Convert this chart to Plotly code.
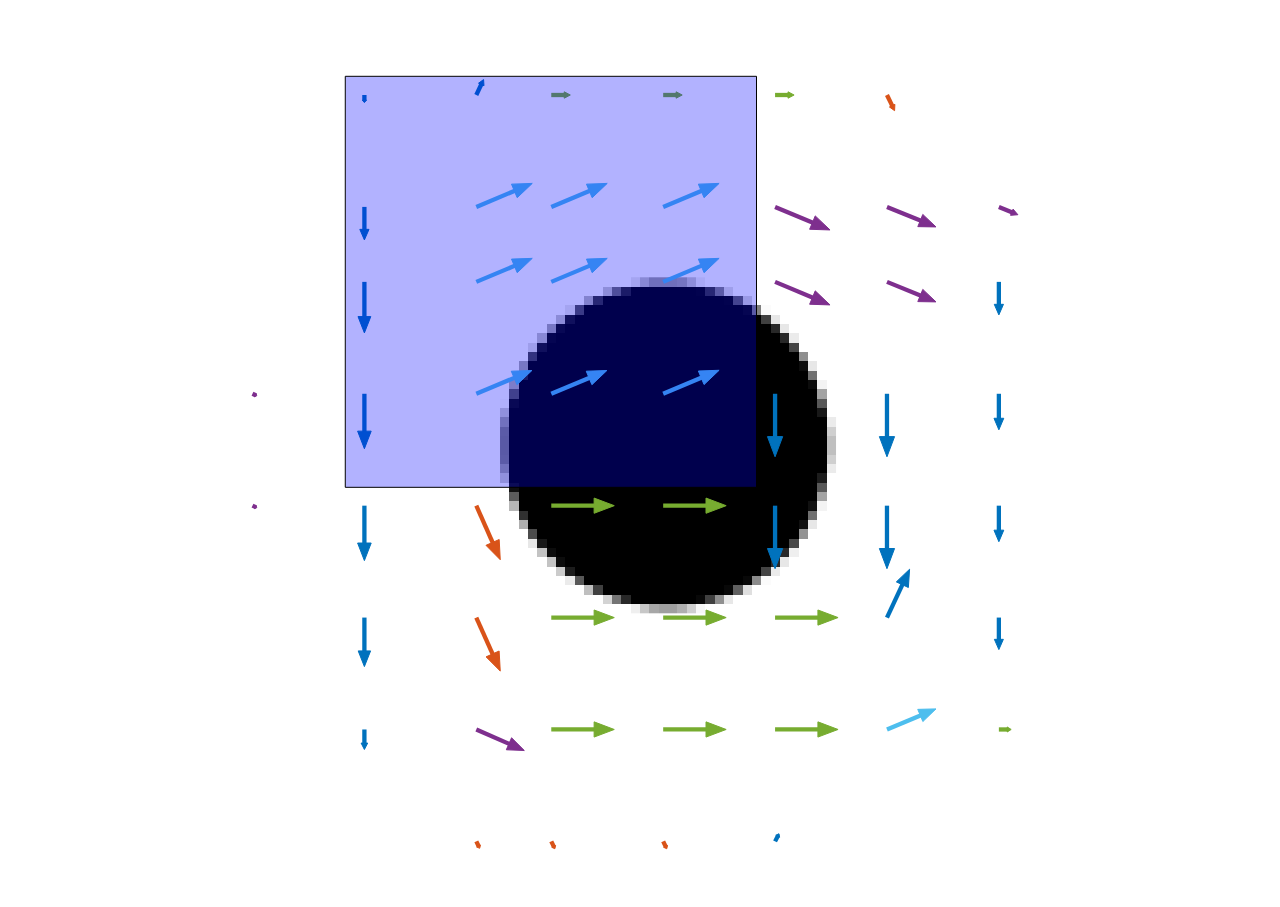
import numpy as np
import plotly.graph_objects as go

# ---- data (grid units) ----
arrow_x = [1, 2, 2.67, 3.67, 4.67, 5.67,
           1, 2, 2.67, 3.67, 4.67, 5.67, 6.67,
           1, 2, 2.67, 3.67, 4.67, 5.67, 6.67,
           0, 1, 2, 2.67, 3.67, 4.67, 5.67, 6.67,
           0, 1, 2, 2.67, 3.67, 4.67, 5.67, 6.67,
           1, 2, 2.67, 3.67, 4.67, 5.67, 6.67,
           1, 2, 2.67, 3.67, 4.67, 5.67, 6.67,
           2, 2.67, 3.67, 4.67]
arrow_y = [0, 0, 0, 0, 0, 0,
           1, 1, 1, 1, 1, 1, 1,
           1.67, 1.67, 1.67, 1.67, 1.67, 1.67, 1.67,
           2.67, 2.67, 2.67, 2.67, 2.67, 2.67, 2.67, 2.67,
           3.67, 3.67, 3.67, 3.67, 3.67, 3.67, 3.67, 3.67,
           4.67, 4.67, 4.67, 4.67, 4.67, 4.67, 4.67,
           5.67, 5.67, 5.67, 5.67, 5.67, 5.67, 5.67,
           6.67, 6.67, 6.67, 6.67]
arrow_u = [0, 0.065, 0.170, 0.170, 0.170, 0.068,
           0, 0.500, 0.500, 0.500, 0.491, 0.438, 0.170,
           0, 0.500, 0.500, 0.500, 0.491, 0.438, 0,
           0.038, 0, 0.497, 0.497, 0.500, 0, 0, 0,
           0.038, 0, 0.214, 0.563, 0.563, 0, 0, 0,
           0, 0.214, 0.563, 0.563, 0.563, 0.202, 0,
           0, 0.429, 0.563, 0.563, 0.563, 0.438, 0.110,
           0.030, 0.032, 0.032, 0.035]
arrow_v = [0.068, -0.138, 0, 0, 0, 0.140,
           0.295, -0.210, -0.210, -0.210, 0.206, 0.179, 0.070,
           0.456, -0.210, -0.210, -0.210, 0.206, 0.179, 0.295,
           0.018, 0.491, -0.208, -0.208, -0.210, 0.563, 0.563, 0.322,
           0.018, 0.491, 0.483, 0, 0, 0.563, 0.563, 0.322,
           0.438, 0.478, 0, 0, 0, -0.432, 0.286,
           0.179, 0.188, 0, 0, 0, -0.184, 0,
           0.062, 0.066, 0.066, -0.068]
arrow_c = ["B", "B", "G", "G", "G", "O",
           "B", "LB", "LB", "LB", "P", "P", "P",
           "B", "LB", "LB", "LB", "P", "P", "B",
           "P", "B", "LB", "LB", "LB", "B", "B", "B",
           "P", "B", "O", "G", "G", "B", "B", "B",
           "B", "O", "G", "G", "G", "B", "B",
           "B", "P", "G", "G", "G", "LB", "G",
           "O", "O", "O", "B"]

palette = {"B": "#0072BD", "O": "#D95319", "P": "#7E2F8E",
           "G": "#77AC30", "LB": "#4DBEEE"}

# circle image parameters
circle_cx, circle_cy, circle_r = 3.700, 3.128, 1.45
img_x0, img_y0, img_px, img_n = 2.212, 1.629, 1.0 / 12.0, 36

# translucent rectangle
rect_x0, rect_y0, rect_x1, rect_y1 = 0.829, -0.167, 4.504, 3.506

# ---- build image (coverage of disk) ----
ss = 8
z = np.ones((img_n, img_n))
offs = (np.arange(ss) + 0.5) / ss
for i in range(img_n):
    for j in range(img_n):
        yy = img_y0 + (i + offs[:, None]) * img_px
        xx = img_x0 + (j + offs[None, :]) * img_px
        inside = (xx - circle_cx) ** 2 + (yy - circle_cy) ** 2 <= circle_r ** 2
        z[i, j] = 1.0 - inside.mean()

fig = go.Figure()
fig.add_trace(go.Heatmap(
    z=z, x0=img_x0 + img_px / 2, dx=img_px, y0=img_y0 + img_px / 2, dy=img_px,
    colorscale=[[0, "black"], [1, "white"]], zmin=0, zmax=1,
    showscale=False, hoverinfo="skip", zsmooth=False))

px_per_unit = 111.9
for key, col in palette.items():
    sx, sy, hx, hy = [], [], [], []
    for x, y, u, v, c in zip(arrow_x, arrow_y, arrow_u, arrow_v, arrow_c):
        if c != key:
            continue
        L = np.hypot(u, v)
        dxn, dyn = u / L, v / L
        px_, py_ = -dyn, dxn
        hl = 0.32 * L
        hw = 0.1 * L + 1.3 / px_per_unit
        tx, ty = x + u, y + v
        bx, by = tx - hl * dxn, ty - hl * dyn
        ex, ey = tx - 0.8 * hl * dxn, ty - 0.8 * hl * dyn
        sx += [x, ex, None]
        sy += [y, ey, None]
        hx += [tx, bx + hw * px_, bx - hw * px_, tx, None]
        hy += [ty, by + hw * py_, by - hw * py_, ty, None]
    fig.add_trace(go.Scatter(x=sx, y=sy, mode="lines",
                             line=dict(color=col, width=4.3),
                             hoverinfo="skip", showlegend=False))
    fig.add_trace(go.Scatter(x=hx, y=hy, mode="lines", fill="toself",
                             fillcolor=col, line=dict(color=col, width=1),
                             hoverinfo="skip", showlegend=False))

fig.add_shape(type="rect", x0=rect_x0, y0=rect_y0, x1=rect_x1, y1=rect_y1,
              xref="x", yref="y", layer="above",
              fillcolor="rgba(0,0,255,0.3)", line=dict(color="black", width=1))

W, H = 1280, 907
x_lo = -252.5 / px_per_unit
x_hi = (W - 252.5) / px_per_unit
y_lo = -95.0 / px_per_unit
y_hi = (H - 95.0) / px_per_unit

fig.update_layout(
    width=W, height=H, margin=dict(l=0, r=0, t=0, b=0),
    paper_bgcolor="white", plot_bgcolor="white", showlegend=False,
    xaxis=dict(range=[x_lo, x_hi], visible=False, showgrid=False, zeroline=False),
    yaxis=dict(range=[y_hi, y_lo], visible=False, showgrid=False, zeroline=False),
)

fig.write_html("out.html", config={"displayModeBar": False})
